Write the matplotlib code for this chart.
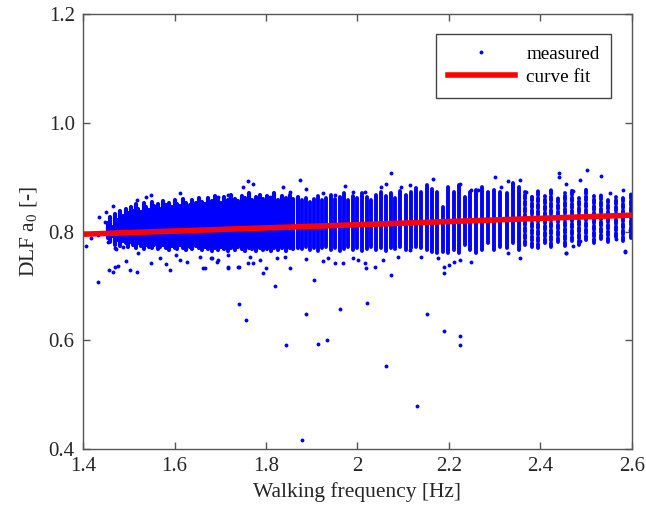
import matplotlib
matplotlib.use("Agg")
import matplotlib.pyplot as plt

plt.rcParams["font.family"] = ["Liberation Serif", "DejaVu Serif"]
plt.rcParams["mathtext.fontset"] = "custom"
plt.rcParams["mathtext.rm"] = "Liberation Serif"

# closely spaced frequency columns at low frequencies (extent of each column)
left_x = [1.455, 1.460, 1.465, 1.471, 1.476, 1.481, 1.487, 1.493, 1.498, 1.504,
          1.509, 1.515, 1.521, 1.527, 1.533, 1.538, 1.544, 1.550, 1.556, 1.563,
          1.569, 1.575, 1.581, 1.587, 1.594, 1.600, 1.606, 1.613, 1.619, 1.626,
          1.633, 1.639, 1.646, 1.653, 1.660, 1.667, 1.674, 1.681, 1.688, 1.695,
          1.702, 1.709, 1.717, 1.724, 1.732, 1.739, 1.747, 1.754, 1.762, 1.770,
          1.778, 1.786, 1.794, 1.802, 1.810, 1.818, 1.826, 1.835, 1.843, 1.852,
          1.860, 1.869]
left_hi = [0.815, 0.826, 0.808, 0.832, 0.822, 0.838, 0.828, 0.842, 0.834, 0.845,
           0.838, 0.850, 0.842, 0.836, 0.852, 0.845, 0.840, 0.855, 0.846, 0.850,
           0.842, 0.856, 0.848, 0.852, 0.845, 0.858, 0.850, 0.846, 0.860, 0.852,
           0.848, 0.858, 0.852, 0.862, 0.855, 0.850, 0.862, 0.856, 0.866, 0.858,
           0.852, 0.864, 0.858, 0.868, 0.860, 0.856, 0.866, 0.862, 0.870, 0.858,
           0.864, 0.868, 0.860, 0.866, 0.862, 0.870, 0.858, 0.866, 0.862, 0.868,
           0.860, 0.864]
left_lo = [0.788, 0.780, 0.792, 0.776, 0.784, 0.774, 0.782, 0.778, 0.772, 0.780,
           0.775, 0.770, 0.778, 0.774, 0.768, 0.776, 0.772, 0.770, 0.775, 0.768,
           0.772, 0.776, 0.770, 0.766, 0.774, 0.770, 0.768, 0.775, 0.770, 0.766,
           0.772, 0.768, 0.774, 0.770, 0.766, 0.772, 0.768, 0.764, 0.770, 0.766,
           0.772, 0.768, 0.765, 0.770, 0.766, 0.772, 0.768, 0.764, 0.770, 0.767,
           0.764, 0.770, 0.766, 0.768, 0.764, 0.770, 0.766, 0.769, 0.765, 0.770,
           0.767, 0.770]

# discrete frequency columns at higher frequencies (extent of each column)
stripe_x = [1.878, 1.887, 1.896, 1.905, 1.914, 1.923, 1.932, 1.942, 1.951, 1.961,
            1.970, 1.980, 1.990, 2.000, 2.010, 2.020, 2.030, 2.041, 2.051, 2.062,
            2.073, 2.083, 2.094, 2.105, 2.116, 2.128, 2.139, 2.151, 2.162, 2.174,
            2.186, 2.198, 2.210, 2.222, 2.235, 2.247, 2.260, 2.273, 2.286, 2.299,
            2.312, 2.326, 2.339, 2.353, 2.367, 2.381, 2.395, 2.410, 2.424, 2.439,
            2.454, 2.469, 2.484, 2.500, 2.516, 2.532, 2.548, 2.564, 2.581, 2.597]
stripe_hi = [0.858, 0.862, 0.855, 0.860, 0.866, 0.858, 0.862, 0.868, 0.860, 0.864,
             0.870, 0.858, 0.866, 0.862, 0.870, 0.864, 0.858, 0.868, 0.872, 0.866,
             0.870, 0.862, 0.874, 0.868, 0.872, 0.880, 0.873, 0.886, 0.878, 0.873,
             0.845, 0.882, 0.873, 0.886, 0.864, 0.873, 0.876, 0.882, 0.873, 0.876,
             0.873, 0.870, 0.889, 0.882, 0.873, 0.868, 0.876, 0.866, 0.878, 0.862,
             0.870, 0.876, 0.862, 0.880, 0.866, 0.870, 0.858, 0.864, 0.862, 0.870]
stripe_lo = [0.768, 0.772, 0.766, 0.770, 0.765, 0.769, 0.772, 0.766, 0.770, 0.764,
             0.768, 0.772, 0.766, 0.770, 0.765, 0.768, 0.771, 0.766, 0.769, 0.764,
             0.770, 0.767, 0.772, 0.766, 0.770, 0.772, 0.769, 0.766, 0.763, 0.760,
             0.763, 0.760, 0.766, 0.760, 0.775, 0.766, 0.760, 0.766, 0.778, 0.766,
             0.772, 0.769, 0.778, 0.766, 0.775, 0.772, 0.770, 0.778, 0.772, 0.780,
             0.774, 0.782, 0.776, 0.784, 0.778, 0.786, 0.780, 0.790, 0.782, 0.788]
n_solid = 44  # columns above ~2.36 Hz hold fewer points and look dotted

# scattered measurements outside the dense core
pts_x = [1.613, 1.549, 1.538, 1.517, 1.466, 1.451, 1.435, 1.447, 1.407, 1.418,
         1.433, 1.455, 1.469, 1.473, 1.487, 1.457, 1.469, 1.477, 1.495, 1.502,
         1.517, 1.549, 1.582, 1.590, 1.611, 1.604, 1.433, 1.568, 1.520, 1.622,
         1.575, 1.627, 1.663, 1.681, 1.692, 1.718, 1.740, 1.761, 1.466,
         1.750, 1.761, 1.772, 1.837, 1.717, 1.695, 1.673, 1.852, 1.874, 1.808,
         1.655, 1.666, 1.680, 1.695, 1.717, 1.717, 1.739, 1.764, 1.772, 1.786,
         1.801, 1.793, 1.852, 1.823, 1.841,
         2.074, 1.972, 1.888, 1.925, 1.950, 1.990, 2.016, 2.052, 2.063, 2.096,
         2.114, 1.888, 1.925, 1.936, 1.950, 1.968, 1.990, 2.001, 2.016, 2.019,
         2.038, 2.056, 2.074, 2.089, 2.114,
         2.165, 2.300, 2.314, 2.329, 2.355, 2.223, 2.249, 2.263, 2.139, 2.176,
         2.188, 2.188, 2.200, 2.212, 2.223, 2.249, 2.329, 2.355, 2.456, 2.585,
         2.502, 2.440, 2.440, 2.487, 2.533, 2.455, 2.471, 2.580, 2.551, 2.369,
         2.455, 2.471, 2.487, 2.584, 2.566, 2.595,
         1.740, 1.756, 1.820, 1.906, 1.888, 1.844, 1.914, 1.933, 1.962, 2.021,
         2.063, 2.130, 2.152, 2.188, 2.224, 2.224, 1.879]
pts_y = [0.870, 0.867, 0.864, 0.858, 0.846, 0.835, 0.826, 0.818, 0.773, 0.788,
         0.794, 0.781, 0.769, 0.767, 0.772, 0.729, 0.735, 0.737, 0.746, 0.729,
         0.726, 0.742, 0.740, 0.729, 0.748, 0.757, 0.708, 0.751, 0.760, 0.846,
         0.852, 0.744, 0.732, 0.751, 0.744, 0.735, 0.735, 0.742, 0.726,
         0.882, 0.892, 0.887, 0.882, 0.867, 0.864, 0.852, 0.873, 0.895, 0.864,
         0.754, 0.732, 0.751, 0.748, 0.757, 0.732, 0.735, 0.754, 0.742, 0.748,
         0.732, 0.723, 0.732, 0.751, 0.754,
         0.907, 0.884, 0.878, 0.870, 0.868, 0.873, 0.872, 0.882, 0.887, 0.882,
         0.886, 0.749, 0.745, 0.751, 0.742, 0.742, 0.751, 0.748, 0.742, 0.732,
         0.734, 0.748, 0.720, 0.754, 0.766,
         0.896, 0.901, 0.882, 0.892, 0.895, 0.887, 0.876, 0.876, 0.754, 0.751,
         0.735, 0.724, 0.738, 0.744, 0.748, 0.744, 0.760, 0.751, 0.760, 0.763,
         0.914, 0.908, 0.901, 0.895, 0.902, 0.887, 0.875, 0.876, 0.870, 0.873,
         0.760, 0.773, 0.783, 0.765, 0.786, 0.803,
         0.666, 0.637, 0.700, 0.711, 0.649, 0.592, 0.593, 0.600, 0.658, 0.669,
         0.553, 0.479, 0.649, 0.617, 0.608, 0.591, 0.416]

fit_x = [1.4, 2.6]
fit_y = [0.795, 0.830]

blue = "#0000ff"
red = "#ff0000"
dark = "#262626"

fig = plt.figure(figsize=(6.46, 5.12), dpi=100)
ax = fig.add_axes([0.1285, 0.123, 0.8498, 0.8497])

ax.vlines(left_x, left_lo, left_hi, color=blue, lw=3.0, capstyle="round")
ax.vlines(stripe_x[:n_solid], stripe_lo[:n_solid], stripe_hi[:n_solid],
          color=blue, lw=2.8, capstyle="round")
ax.vlines(stripe_x[n_solid:], stripe_lo[n_solid:], stripe_hi[n_solid:],
          color=blue, lw=2.8, capstyle="round", linestyles=(0, (1.0, 0.7)))
(meas,) = ax.plot(pts_x, pts_y, "o", color=blue, ms=2.8, mew=0, label="measured")
(fit,) = ax.plot(fit_x, fit_y, "-", color=red, lw=4.0, label="curve fit")

ax.set_xlim(1.4, 2.6)
ax.set_ylim(0.4, 1.2)
ax.set_xticks([1.4, 1.6, 1.8, 2.0, 2.2, 2.4, 2.6])
ax.set_xticklabels(["1.4", "1.6", "1.8", "2", "2.2", "2.4", "2.6"])
ax.set_yticks([0.4, 0.6, 0.8, 1.0, 1.2])
ax.set_yticklabels(["0.4", "0.6", "0.8", "1.0", "1.2"])
ax.tick_params(direction="in", length=5, width=1, colors="#555555",
               labelcolor=dark, labelsize=15, top=True, right=True, pad=6)
for sp in ax.spines.values():
    sp.set_color("#555555")
    sp.set_linewidth(1)

ax.set_xlabel("Walking frequency [Hz]", fontsize=15.5, color=dark, labelpad=4)
ax.set_ylabel(r"DLF a$_{\mathrm{0}}$ [-]", fontsize=15.5, color=dark, labelpad=6)

leg = ax.legend(handles=[meas, fit], loc="upper right",
                bbox_to_anchor=(0.962, 0.954), fancybox=False, framealpha=1,
                edgecolor="#444444", fontsize=13.8, handlelength=3.5,
                borderaxespad=0, markerscale=1.0, handletextpad=0.6,
                labelspacing=0.3, borderpad=0.6)
leg.get_frame().set_linewidth(1)

fig.savefig("out.png", dpi=100)
